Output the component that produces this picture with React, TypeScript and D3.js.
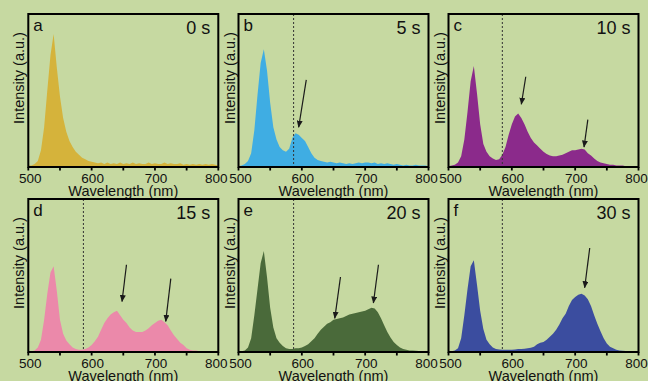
import React from "react";
import * as d3 from "d3";

// wavelength grid (nm) shared by every spectrum
const wavelengths = d3.range(500, 801, 5);

// spectra, normalised to the panel height
const spec0s = [
  0.01, 0.01, 0.02, 0.04, 0.11, 0.26, 0.5, 0.73, 0.87, 0.65, 0.46, 0.32, 0.23, 0.17, 0.13, 0.1,
  0.08, 0.06, 0.05, 0.04, 0.035, 0.03, 0.025, 0.03, 0.02, 0.03, 0.02, 0.025, 0.02, 0.03, 0.02,
  0.025, 0.02, 0.03, 0.02, 0.025, 0.02, 0.02, 0.03, 0.02, 0.025, 0.02, 0.02, 0.03, 0.02, 0.025,
  0.02, 0.02, 0.025, 0.015, 0.02, 0.015, 0.02, 0.015, 0.02, 0.015, 0.02, 0.015, 0.02, 0.015, 0.01,
];
const spec5s = [
  0.005, 0.01, 0.02, 0.04, 0.09, 0.24, 0.47, 0.68, 0.77, 0.63, 0.42, 0.26, 0.18, 0.13, 0.11, 0.1,
  0.12, 0.19, 0.22, 0.21, 0.19, 0.17, 0.13, 0.09, 0.06, 0.045, 0.04, 0.035, 0.03, 0.035, 0.03,
  0.025, 0.03, 0.025, 0.02, 0.025, 0.02, 0.025, 0.03, 0.025, 0.03, 0.03, 0.025, 0.03, 0.02, 0.025,
  0.02, 0.025, 0.02, 0.015, 0.02, 0.015, 0.01, 0.015, 0.01, 0.01, 0.015, 0.01, 0.01, 0.01, 0.005,
];
const spec10s = [
  0.005, 0.01, 0.015, 0.03, 0.07, 0.18, 0.36, 0.56, 0.66, 0.48, 0.28, 0.15, 0.1, 0.07, 0.055, 0.045,
  0.05, 0.08, 0.13, 0.21, 0.28, 0.33, 0.35, 0.32, 0.28, 0.23, 0.19, 0.16, 0.14, 0.12, 0.1,
  0.085, 0.075, 0.07, 0.07, 0.075, 0.08, 0.09, 0.1, 0.11, 0.11, 0.115, 0.12, 0.115, 0.09, 0.075,
  0.055, 0.04, 0.03, 0.025, 0.02, 0.015, 0.015, 0.01, 0.01, 0.01, 0.005, 0.005, 0.005, 0.005, 0.005,
];
const spec15s = [
  0.005, 0.005, 0.01, 0.03, 0.08, 0.21, 0.38, 0.52, 0.56, 0.4, 0.21, 0.12, 0.075, 0.05, 0.03, 0.02,
  0.015, 0.015, 0.02, 0.03, 0.045, 0.07, 0.1, 0.145, 0.19, 0.22, 0.245, 0.26, 0.27, 0.24, 0.21,
  0.19, 0.16, 0.14, 0.13, 0.13, 0.13, 0.14, 0.155, 0.175, 0.19, 0.205, 0.21, 0.195, 0.175, 0.14,
  0.11, 0.085, 0.06, 0.045, 0.025, 0.015, 0.01, 0.01, 0.005, 0.005, 0.005, 0.005, 0.005, 0.005, 0.005,
];
const spec20s = [
  0.005, 0.005, 0.01, 0.03, 0.09, 0.24, 0.41, 0.58, 0.66, 0.49, 0.29, 0.16, 0.09, 0.06, 0.04, 0.025,
  0.02, 0.02, 0.025, 0.025, 0.03, 0.04, 0.05, 0.07, 0.09, 0.12, 0.145, 0.165, 0.185, 0.195, 0.21,
  0.215, 0.22, 0.225, 0.235, 0.245, 0.25, 0.255, 0.26, 0.265, 0.27, 0.28, 0.29, 0.285, 0.26, 0.22,
  0.175, 0.13, 0.095, 0.065, 0.045, 0.03, 0.02, 0.015, 0.01, 0.01, 0.008, 0.006, 0.005, 0.005, 0.005,
];
const spec30s = [
  0.005, 0.005, 0.01, 0.025, 0.09, 0.24, 0.41, 0.56, 0.6, 0.44, 0.27, 0.15, 0.08, 0.05, 0.03, 0.02,
  0.017, 0.015, 0.015, 0.015, 0.015, 0.017, 0.02, 0.02, 0.022, 0.025, 0.028, 0.035, 0.05, 0.06, 0.065,
  0.08, 0.1, 0.12, 0.145, 0.18, 0.22, 0.25, 0.3, 0.34, 0.36, 0.375, 0.38, 0.37, 0.345, 0.3,
  0.24, 0.185, 0.135, 0.09, 0.055, 0.035, 0.025, 0.015, 0.01, 0.008, 0.006, 0.005, 0.005, 0.005, 0.005,
];

const spectra = [spec0s, spec5s, spec10s, spec15s, spec20s, spec30s];
const panelLetters = ["a", "b", "c", "d", "e", "f"];
const timeLabels = ["0 s", "5 s", "10 s", "15 s", "20 s", "30 s"];
const fillColors = ["#d5b33b", "#3fade3", "#8b2a8b", "#eb89aa", "#4a6a3a", "#3b4d9f"];
// dotted marker wavelength (nm), none in the first panel
const dividers = [null, 587, 585, 587, 587, 585];
// arrows as [x1, y1, x2, y2] in nm / normalised intensity, head at the end
const arrows = [
  [],
  [[607, 0.57, 595, 0.26]],
  [[622, 0.59, 615, 0.41], [720, 0.31, 714, 0.13]],
  [[655, 0.57, 648, 0.33], [725, 0.48, 717, 0.2]],
  [[661, 0.49, 652, 0.22], [721, 0.57, 713, 0.32]],
  [[723, 0.68, 715, 0.42]],
];
const xTickLabels = [500, 600, 700, 800];
const xTickMarks = [500, 550, 600, 650, 700, 750, 800];

const initial = {
  width: 648,
  height: 381,
  colLeft: [28.3, 238.5, 448.5],
  rowTop: [14, 199],
  boxW: 190,
  boxH: 153,
  font: "'Liberation Sans', Arial, sans-serif",
  bg: "#c6d9a1",
};

const Panel = ({ index }: { index: number }) => {
  const left = initial.colLeft[index % 3];
  const top = initial.rowTop[Math.floor(index / 3)];
  const bottom = top + initial.boxH;
  const right = left + initial.boxW;

  const xScale = d3.scaleLinear().domain([500, 800]).range([left, right]);
  const yScale = d3.scaleLinear().domain([0, 1]).range([bottom, top]);

  const area = d3
    .area<number>()
    .x((d, j) => xScale(wavelengths[j]))
    .y0(yScale(0))
    .y1((d) => yScale(d))
    .curve(d3.curveLinear);

  const divider = dividers[index];

  return (
    <g>
      <path d={area(spectra[index]) || ""} fill={fillColors[index]} />

      {divider !== null && (
        <line
          x1={xScale(divider)}
          x2={xScale(divider)}
          y1={top}
          y2={bottom}
          stroke="#333"
          strokeWidth={1}
          strokeDasharray="2,2"
        />
      )}

      {arrows[index].map((a, k) => (
        <line
          key={k}
          x1={xScale(a[0])}
          y1={yScale(a[1])}
          x2={xScale(a[2])}
          y2={yScale(a[3])}
          stroke="#1a1a1a"
          strokeWidth={1.2}
          markerEnd="url(#arrowHead)"
        />
      ))}

      {/* frame */}
      <rect
        x={left}
        y={top}
        width={initial.boxW}
        height={initial.boxH}
        fill="none"
        stroke="#000"
        strokeWidth={2}
      />

      {xTickMarks.map((t) => (
        <line
          key={"m" + t}
          x1={xScale(t)}
          x2={xScale(t)}
          y1={bottom}
          y2={bottom + 3.5}
          stroke="#000"
          strokeWidth={1.8}
        />
      ))}
      {xTickLabels.map((t, k) => (
        <text
          key={"l" + t}
          x={xScale(t) + (k === 0 ? 2 : k === xTickLabels.length - 1 ? -2 : 1)}
          y={bottom + 15.5}
          textAnchor="middle"
          fontSize={13.5}
          fill="#111"
        >
          {t}
        </text>
      ))}

      <text
        x={(left + right) / 2}
        y={bottom + 28.5}
        textAnchor="middle"
        fontSize={14.5}
        fill="#111"
      >
        Wavelength (nm)
      </text>

      <text
        transform={`translate(${left - 4},${top + 64}) rotate(-90)`}
        textAnchor="middle"
        fontSize={14.5}
        fill="#111"
      >
        Intensity (a.u.)
      </text>

      <text x={left + 5} y={top + 17} fontSize={17} fill="#111">
        {panelLetters[index]}
      </text>
      <text x={right - 8} y={top + 20} textAnchor="end" fontSize={18} fill="#111">
        {timeLabels[index]}
      </text>
    </g>
  );
};

const App = () => {
  return (
    <svg
      width={initial.width}
      height={initial.height}
      style={{ position: "absolute", left: 0, top: 0, background: initial.bg }}
      fontFamily={initial.font}
    >
      <defs>
        <marker
          id="arrowHead"
          markerUnits="userSpaceOnUse"
          markerWidth={7}
          markerHeight={6}
          refX={6.5}
          refY={3}
          orient="auto"
        >
          <path d="M0,0 L7,3 L0,6 Z" fill="#1a1a1a" />
        </marker>
      </defs>
      <rect width={initial.width} height={initial.height} fill={initial.bg} />
      {spectra.map((s, i) => (
        <Panel key={i} index={i} />
      ))}
    </svg>
  );
};

export default App;
